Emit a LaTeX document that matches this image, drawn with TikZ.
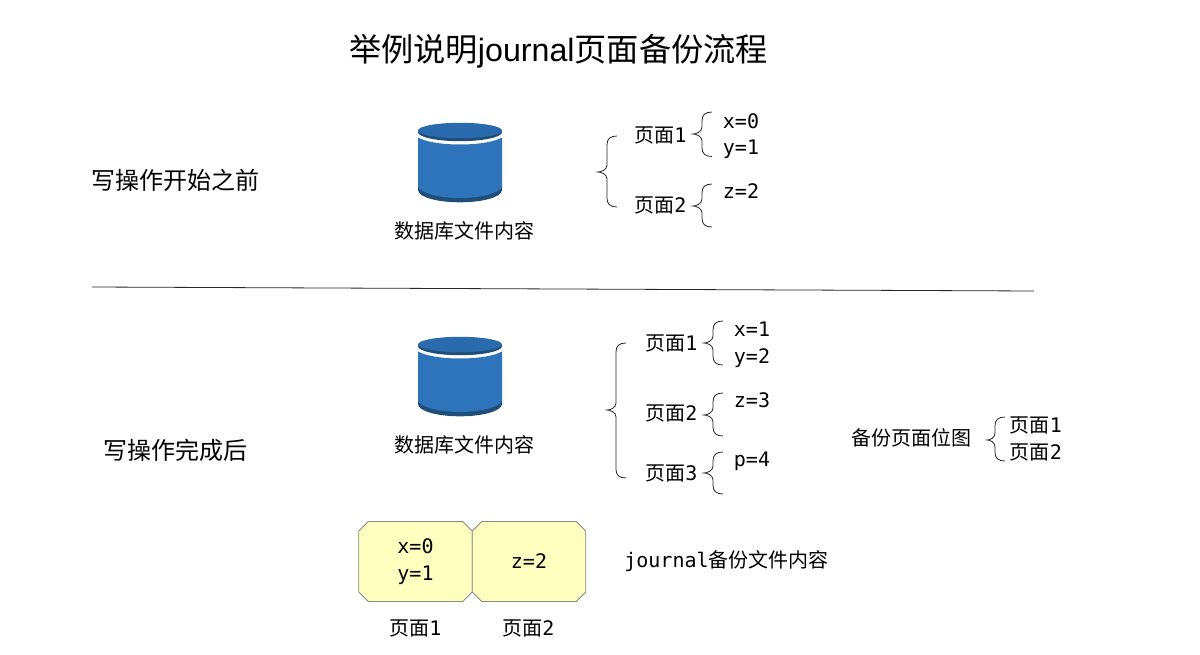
\documentclass[tikz,border=0pt]{standalone}
\usepackage{fontspec}
\usetikzlibrary{shapes.misc}
\setmainfont{DejaVu Sans Mono}
\newfontfamily\cjk{Noto Sans CJK SC}
\newfontfamily\lat{Liberation Sans}
\definecolor{cylblue}{HTML}{2E74BA}
\definecolor{cyltop}{HTML}{2A6BAD}
\definecolor{cyldark}{HTML}{1F4E79}
\definecolor{boxfill}{HTML}{FFFFC0}
\definecolor{boxline}{HTML}{888888}
\newcommand{\zh}[1]{{\cjk #1}}
\newcommand{\bracepath}[6]{% tip, spine, right, top, mid, bottom
  \draw[bracket]
    (#3,#4) .. controls ({#2+3},#4) and (#2,{#4+3}) .. (#2,{#4+9})
    -- (#2,{#5-7}) .. controls (#2,{#5-2}) and ({#1+4},#5) .. ({#1+1},#5)
    .. controls ({#1+4},#5) and (#2,{#5+2}) .. (#2,{#5+7})
    -- (#2,{#6-9}) .. controls (#2,{#6-3}) and ({#2+3},#6) .. (#3,#6);}
\newcommand{\dbcyl}[1]{% y offset
  \begin{scope}[yshift=-#1pt]
    \fill[cyldark] (418,186) -- (502,186) -- (502,190)
       .. controls (502,197) and (483,202.3) .. (460,202.3)
       .. controls (437,202.3) and (418,197) .. (418,190) -- cycle;
    \fill[cylblue] (418,137.5) .. controls (426,142) and (442,144.5) .. (460,144.5)
       .. controls (478,144.5) and (494,142) .. (502,137.5) -- (502,186)
       .. controls (502,192) and (483,198) .. (460,198)
       .. controls (437,198) and (418,192) .. (418,186) -- cycle;
    \fill[cyldark] (460,132.2) ellipse [x radius=42, y radius=9];
    \fill[cyltop] (460,130.5) ellipse [x radius=42, y radius=7.7];
  \end{scope}}
\tikzset{
  lbl/.style={inner sep=0pt, font=\fontsize{20}{27}\selectfont, align=center},
  sect/.style={inner sep=0pt, font=\fontsize{24}{28}\selectfont},
  bracket/.style={draw=black!85, line width=0.8pt},
  pagebox/.style={chamfered rectangle, chamfered rectangle angle=45,
    chamfered rectangle xsep=4.8pt, chamfered rectangle ysep=4.8pt,
    draw=boxline, fill=boxfill, line width=0.9pt, inner sep=0pt,
    minimum width=113.5pt, minimum height=80pt, align=center,
    font=\fontsize{20}{27}\selectfont},
}
\begin{document}
\begin{tikzpicture}[x=1pt,y=-1pt]
\useasboundingbox (0,0) rectangle (1200,655);
\node[inner sep=0pt, font=\fontsize{32.2}{36}\selectfont] (title) at (558.5,51.5) {\zh{举例说明}{\lat journal}\zh{页面备份流程}};
\node[sect] (before) at (175,180.5) {\zh{写操作开始之前}};
\node[sect] (after) at (175,450.5) {\zh{写操作完成后}};

\dbcyl{0}
\dbcyl{214}
\node[lbl] (db1) at (464,231) {\zh{数据库文件内容}};
\node[lbl] (db2) at (464,445) {\zh{数据库文件内容}};

% top block
\bracepath{597}{607}{617}{136}{172}{207}
\bracepath{692}{702}{712}{112}{134}{156.5}
\bracepath{692}{702}{712}{184}{206}{227}
\node[lbl] (a1) at (660.5,135) {\zh{页面}1};
\node[lbl] (a2) at (660.5,205.5) {\zh{页面}2};
\node[lbl] (ax) at (741,121) {x=0};
\node[lbl] (ay) at (741,149.5) {y=1};
\node[lbl] (az) at (741,191.5) {z=2};

% separator
\coordinate (sepL) at (92,287);
\coordinate (sepR) at (1034,291);
\draw[black!85, line width=0.8pt] (sepL) -- (sepR);

% lower block
\bracepath{606}{616}{626}{343}{410}{478}
\bracepath{703}{713}{723}{321}{343}{365}
\bracepath{703}{713}{723}{393}{415}{436}
\bracepath{703}{713}{723}{452}{473}{494}
\bracepath{986}{995}{1005}{417}{440}{461}
\node[lbl] (b1) at (671.5,343) {\zh{页面}1};
\node[lbl] (b2) at (671.5,413.5) {\zh{页面}2};
\node[lbl] (b3) at (671.5,473) {\zh{页面}3};
\node[lbl] (bx) at (752,329) {x=1};
\node[lbl] (by) at (752,358) {y=2};
\node[lbl] (bz) at (752,400) {z=3};
\node[lbl] (bp) at (752,461) {p=4};
\node[lbl] (map) at (911,438) {\zh{备份页面位图}};
\node[lbl] (m1) at (1036,425) {\zh{页面}1};
\node[lbl] (m2) at (1036,452) {\zh{页面}2};

% journal boxes
\node[pagebox] (j1) at (415.5,561.5) {x=0\\y=1};
\node[pagebox] (j2) at (529,561.5) {z=2};
\node[lbl] (jt) at (726.5,561) {journal\zh{备份文件内容}};
\node[lbl] (p1) at (415.5,628.5) {\zh{页面}1};
\node[lbl] (p2) at (528.5,628.5) {\zh{页面}2};
\end{tikzpicture}
\end{document}
